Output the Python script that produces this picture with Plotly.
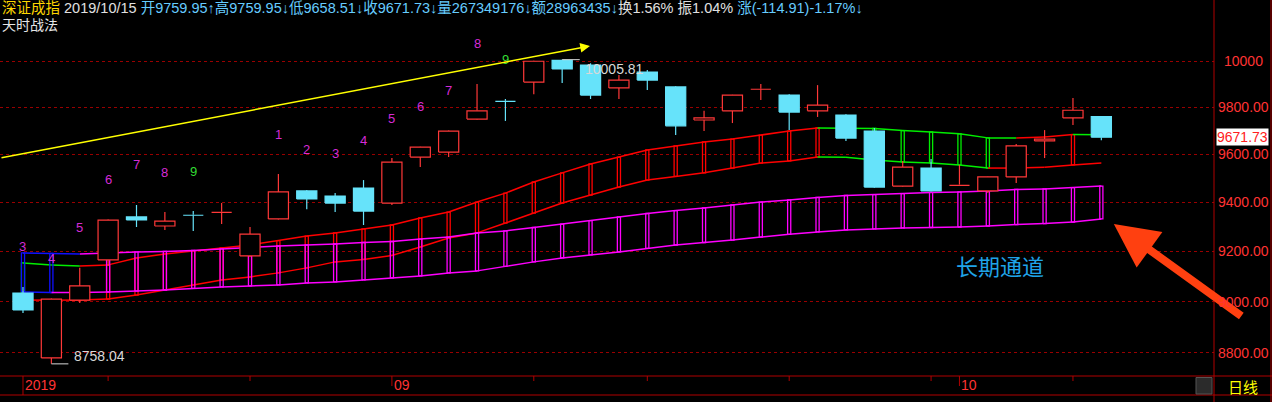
import math
import datetime as dt
import plotly.graph_objects as go

# ---------------- data ----------------
dates = ["2019-08-14", "2019-08-15", "2019-08-16", "2019-08-19", "2019-08-20", "2019-08-21",
         "2019-08-22", "2019-08-23", "2019-08-26", "2019-08-27", "2019-08-28", "2019-08-29",
         "2019-08-30", "2019-09-02", "2019-09-03", "2019-09-04", "2019-09-05", "2019-09-06",
         "2019-09-09", "2019-09-10", "2019-09-11", "2019-09-12", "2019-09-16", "2019-09-17",
         "2019-09-18", "2019-09-19", "2019-09-20", "2019-09-23", "2019-09-24", "2019-09-25",
         "2019-09-26", "2019-09-27", "2019-09-30", "2019-10-08", "2019-10-09", "2019-10-10",
         "2019-10-11", "2019-10-14", "2019-10-15"]
open_ = [9034, 8781, 9006, 9166, 9340, 9303, 9349, 9359, 9182, 9332, 9447, 9426, 9459, 9397,
         9588, 9609, 9749, 9827, 9908, 10003, 9982, 9883, 9952, 9887, 9745, 9784, 9877, 9852,
         9784, 9766, 9698, 9467, 9542, 9470, 9447, 9505, 9656, 9754, 9759.95]
high = [9058, 9012, 9134, 9330, 9389, 9360, 9364, 9397, 9299, 9517, 9451, 9438, 9492, 9584,
        9632, 9700, 9900, 9835, 10001, 10005.81, 9990, 9939, 9961, 9890, 9784, 9853, 9900, 9855,
        9895, 9770, 9711, 9572, 9580, 9555, 9506, 9643, 9702, 9839, 9759.95]
low = [8955, 8758.04, 8995, 9142, 9299, 9287, 9283, 9311, 9178, 9330, 9372, 9360, 9307, 9389,
       9546, 9588, 9747, 9741, 9856, 9904, 9835, 9835, 9874, 9681, 9698, 9732, 9831, 9702,
       9758, 9656, 9460, 9465, 9445, 9468, 9438, 9480, 9584, 9724, 9658.51]
close = [8967, 9010, 9062, 9327, 9328, 9323, 9347, 9361, 9270, 9443, 9414, 9397, 9364, 9567,
         9630, 9698, 9784, 9825, 9999, 9965, 9852, 9917, 9917, 9720, 9754, 9852, 9879, 9779,
         9809, 9668, 9463, 9546, 9447, 9473, 9505, 9635, 9664, 9786.64, 9671.73]

# long-term channel (magenta)
long_top = [9194, 9192, 9190, 9194, 9198, 9200, 9204, 9210, 9216, 9222, 9226, 9230, 9236, 9240,
            9250, 9258, 9275, 9283, 9297, 9311, 9325, 9340, 9354, 9366, 9377, 9389, 9401, 9410,
            9420, 9428, 9432, 9436, 9441, 9443, 9447, 9453, 9455, 9461, 9467]
long_bot = [9038, 9036, 9036, 9038, 9042, 9046, 9052, 9058, 9062, 9066, 9074, 9078, 9086, 9094,
            9102, 9114, 9122, 9140, 9158, 9174, 9186, 9198, 9212, 9226, 9236, 9246, 9258, 9269,
            9279, 9287, 9291, 9295, 9297, 9299, 9303, 9309, 9313, 9319, 9332]
# mid-term channel (red / green)
mid_top = [9154, 9146, 9142, 9146, 9174, 9190, 9202, 9214, 9226, 9244, 9262, 9275, 9291, 9307,
           9336, 9360, 9401, 9438, 9484, 9522, 9559, 9588, 9618, 9635, 9652, 9664, 9681, 9698,
           9711, 9710, 9709, 9700, 9694, 9686, 9669, 9668, 9673, 9683, 9682]
mid_bot = [9006, 9006, 9006, 9010, 9026, 9046, 9066, 9086, 9098, 9114, 9134, 9158, 9168, 9184,
           9218, 9254, 9275, 9315, 9356, 9397, 9430, 9463, 9492, 9507, 9522, 9542, 9563, 9572,
           9588, 9587, 9576, 9567, 9563, 9555, 9542, 9542, 9545, 9555, 9563]

# sequential count numbers shown above the highs (0 = none)
td_count = [3, 4, 5, 6, 7, 8, 9, 0, 0, 1, 2, 3, 4, 5, 6, 7, 8, 9] + [0] * 21

y_ticks = [8800, 9000, 9200, 9400, 9600, 9800, 10000]

# trend line drawn by the user (index, price)
trend_from = (-0.81, 9584)
trend_to = (19.98, 10066)
channel_label = "长期通道"
channel_label_pos = (34.43, 9146)
big_arrow_tip = (38.44, 9311)

stock_name = "深证成指"
header_date = "2019/10/15"
volume = "267349176"
amount = "28963435"
turnover = "1.56%"
amplitude = "1.04%"
change = "-114.91"
change_pct = "-1.17%"
indicator_name = "天时战法"

# ---------------- styles ----------------
UP = "#ff3838"
DOWN = "#66e3fa"
RED = "#ff0000"
GREEN = "#00ee00"
MAG = "#ff00ff"
BLUE = "#1010ff"
AXIS = "#b00000"
LABEL = "#ff3333"
FONT = "Liberation Sans, Arial, Noto Sans CJK SC"

n = len(dates)
lg = math.log10
fig = go.Figure()


def add_dir_lines(vals, up_col, dn_col, width=1.5):
    ux, uy, dx, dy = [], [], [], []
    for k in range(len(vals) - 1):
        if vals[k + 1] >= vals[k]:
            ux += [k, k + 1, None]
            uy += [vals[k], vals[k + 1], None]
        else:
            dx += [k, k + 1, None]
            dy += [vals[k], vals[k + 1], None]
    for xx, yy, col in ((ux, uy, up_col), (dx, dy, dn_col)):
        if xx:
            fig.add_trace(go.Scatter(x=xx, y=yy, mode="lines", line=dict(color=col, width=width),
                                     hoverinfo="skip"))


def add_sticks(top, bot, up_col, dn_col, hw=0.055):
    groups = {up_col: ([], []), dn_col: ([], [])}
    for i in range(n):
        if close[i] > top[i]:
            col = up_col
        elif close[i] < bot[i]:
            col = dn_col
        else:
            continue
        gx, gy = groups[col]
        gx += [i - hw, i + hw, i + hw, i - hw, i - hw, None]
        gy += [bot[i], bot[i], top[i], top[i], bot[i], None]
    for col, (gx, gy) in groups.items():
        if gx:
            fig.add_trace(go.Scatter(x=gx, y=gy, mode="lines", line=dict(color=col, width=1.3),
                                     hoverinfo="skip"))


# mid channel
add_sticks(mid_top, mid_bot, RED, GREEN)
add_dir_lines(mid_top, RED, GREEN)
add_dir_lines(mid_bot, RED, GREEN)
# long channel
add_sticks(long_top, long_bot, MAG, BLUE)
add_dir_lines(long_top, MAG, BLUE)
add_dir_lines(long_bot, MAG, BLUE)

# candles
hw = 0.355
wk = {True: ([], []), False: ([], [])}
bd = {True: ([], []), False: ([], [])}
for i in range(n):
    o, h, l, c = open_[i], high[i], low[i], close[i]
    up = c >= o
    top, bot = max(o, c), min(o, c)
    wx, wy = wk[up]
    wx += [i, i, None, i, i, None]
    wy += [h, top, None, bot, l, None]
    bx, by = bd[up]
    bx += [i - hw, i + hw, i + hw, i - hw, i - hw, None]
    by += [bot, bot, top, top, bot, None]
for up in (True, False):
    col = UP if up else DOWN
    fig.add_trace(go.Scatter(x=wk[up][0], y=wk[up][1], mode="lines",
                             line=dict(color=col, width=1.2), hoverinfo="skip"))
for up in (True, False):
    col = UP if up else DOWN
    fig.add_trace(go.Scatter(x=bd[up][0], y=bd[up][1], mode="lines", fill="toself",
                             fillcolor="#000000" if up else DOWN,
                             line=dict(color=col, width=1.2), hoverinfo="skip"))

# extreme markers
imax = max(range(n), key=lambda k: high[k])
imin = min(range(n), key=lambda k: low[k])
fig.add_trace(go.Scatter(x=[imax, imax + 0.62, None, imin, imin + 0.6],
                         y=[high[imax], high[imax], None, low[imin], low[imin]],
                         mode="lines", line=dict(color="#d8d8d8", width=1), hoverinfo="skip"))

ann = []
ann.append(dict(x=imax + 0.72, y=lg(high[imax]), xref="x", yref="y", text=f"{high[imax]:.2f}",
                showarrow=False, xanchor="left", yanchor="top", yshift=1,
                font=dict(color="#d8d8d8", size=14, family=FONT)))
ann.append(dict(x=imin + 0.72, y=lg(low[imin]), xref="x", yref="y", text=f"{low[imin]:.2f}",
                showarrow=False, xanchor="left", yanchor="bottom", yshift=-2,
                font=dict(color="#d8d8d8", size=14, family=FONT)))

# count labels
for i, cnt in enumerate(td_count):
    if cnt:
        ann.append(dict(x=i, y=lg(high[i]), xref="x", yref="y", text=str(cnt), showarrow=False,
                        yshift=40, font=dict(color="#33dd33" if cnt == 9 else "#d52bd5",
                                             size=13, family=FONT)))

# yellow trend line with arrow
ann.append(dict(x=trend_to[0], y=lg(trend_to[1]), ax=trend_from[0], ay=lg(trend_from[1]),
                xref="x", yref="y", axref="x", ayref="y", text="", showarrow=True,
                arrowhead=2, arrowsize=1.3, arrowwidth=1.5, arrowcolor="#ffff00"))

# big orange arrow
ann.append(dict(x=big_arrow_tip[0], y=lg(big_arrow_tip[1]), xref="x", yref="y", ax=129, ay=93,
                text="", showarrow=True, arrowhead=2, arrowsize=1.1, arrowwidth=8,
                arrowcolor="#ff4010"))

# channel label
ann.append(dict(x=channel_label_pos[0], y=lg(channel_label_pos[1]), xref="x", yref="y",
                text=channel_label, showarrow=False, xanchor="center",
                font=dict(color="#1fa3e8", size=22, family="Noto Sans CJK SC")))

# header
hdr = (f'<span style="color:#ffd700">{stock_name}</span> '
       f'<span style="color:#e0e0e0">{header_date}</span> '
       f'<span style="color:#66ccff">开{open_[-1]:.2f}↑高{high[-1]:.2f}↓低{low[-1]:.2f}↓'
       f'收{close[-1]:.2f}↓量{volume}↓额{amount}↓</span>'
       f'<span style="color:#e0e0e0">换{turnover} 振{amplitude}</span> '
       f'<span style="color:#66ccff">涨({change}){change_pct}↓</span>')
ann.append(dict(x=0, y=1, xref="paper", yref="paper", text=hdr, showarrow=False,
                xanchor="left", yanchor="top", yshift=2, font=dict(size=14.5, family=FONT)))
ann.append(dict(x=0, y=1, xref="paper", yref="paper", text=indicator_name, showarrow=False,
                xanchor="left", yanchor="top", yshift=-15,
                font=dict(size=14, color="#e6e6e6", family=FONT)))

# y labels
for v in y_ticks:
    ann.append(dict(x=1, y=lg(v), xref="paper", yref="y", xshift=29, xanchor="center",
                    text=str(v) if v >= 10000 else f"{v:.2f}", showarrow=False,
                    font=dict(size=14, color=LABEL, family=FONT)))
# last price tag
ann.append(dict(x=1, y=lg(close[-1]), xref="paper", yref="y", xshift=2, xanchor="left",
                text=f"{close[-1]:.2f}", showarrow=False, bgcolor="#ffffff", borderpad=0,
                font=dict(size=14, color="#ff2020", family=FONT)))

# x axis ticks and labels
PH = 376.0
shapes = []
prev = None
for i, d in enumerate(dates):
    dd = dt.date.fromisoformat(d)
    label = None
    if prev is None:
        tl, label = 19, str(dd.year)
    elif dd.month != prev.month:
        tl, label = 10, f"{dd.month:02d}"
    elif dd.isocalendar()[1] != prev.isocalendar()[1]:
        tl = 5
    else:
        tl = 0
    if tl:
        shapes.append(dict(type="line", xref="x", yref="paper", x0=i, x1=i, y0=0, y1=-tl / PH,
                           line=dict(color=AXIS, width=1)))
    if label:
        ann.append(dict(x=i, y=0, xref="x", yref="paper", text=label, showarrow=False,
                        xanchor="left", yanchor="top", xshift=0, yshift=1,
                        font=dict(size=14, color=LABEL, family=FONT)))
    prev = dd

RW = 1272 / 1214.0
shapes += [
    dict(type="line", xref="paper", yref="paper", x0=0, x1=RW, y0=0, y1=0,
         line=dict(color=AXIS, width=1)),
    dict(type="line", xref="paper", yref="paper", x0=0, x1=RW, y0=-19 / PH, y1=-19 / PH,
         line=dict(color=AXIS, width=1)),
    dict(type="line", xref="paper", yref="paper", x0=1, x1=1, y0=-26 / PH, y1=1,
         line=dict(color=AXIS, width=1)),
    dict(type="line", xref="paper", yref="paper", x0=1271 / 1214.0, x1=1271 / 1214.0,
         y0=-26 / PH, y1=1, line=dict(color=AXIS, width=1)),
    dict(type="rect", xref="paper", yref="paper", x0=1196 / 1214.0, x1=1212 / 1214.0,
         y0=-1.5 / PH, y1=-18 / PH, fillcolor="#2b2b2b", line=dict(color="#555555", width=1)),
]
ann.append(dict(x=1243 / 1214.0, y=-10 / PH, xref="paper", yref="paper", text="日线",
                xanchor="center", yanchor="middle", showarrow=False,
                font=dict(size=15, color="#ffff00", family="Noto Sans CJK SC")))

fig.update_layout(
    width=1272, height=402,
    margin=dict(l=0, r=58, t=0, b=26, pad=0, autoexpand=False),
    paper_bgcolor="#000000", plot_bgcolor="#000000",
    showlegend=False,
    xaxis=dict(range=[-0.81, 41.97], showgrid=False, zeroline=False, showticklabels=False,
               showline=False, ticks=""),
    yaxis=dict(type="log", range=[3.94010, 4.01160], side="right", tickvals=y_ticks,
               showticklabels=False, ticks="", showgrid=True, gridcolor="#990000",
               griddash="dot", gridwidth=1, zeroline=False, showline=False),
    annotations=ann,
    shapes=shapes,
)

fig.write_html("out.html", config={"displayModeBar": False},
               post_script="document.body.style.margin='0px';"
                           "document.body.style.background='#000';"
                           "document.body.style.overflow='hidden';")
